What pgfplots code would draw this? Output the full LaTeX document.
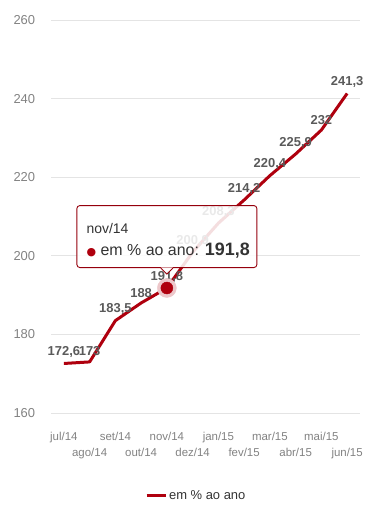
\documentclass[border=0pt]{standalone}
\usepackage{pgfplots}
\pgfplotsset{compat=1.18}
\usepackage{pgfplotstable}
\usepackage{fontspec}
\setmainfont{Liberation Sans}
\newfontfamily\dejavu{DejaVu Sans}
\definecolor{linered}{RGB}{175,0,14}
\definecolor{lblgray}{RGB}{90,90,90}
\definecolor{tickgray}{RGB}{130,130,130}
\definecolor{gridgray}{RGB}{228,228,228}
\definecolor{tiptext}{RGB}{51,51,51}
\pgfplotstableread{
x y lab
0 172.6 {172,6}
1 173.0 {173}
2 183.5 {183,5}
3 188.0 {188}
4 191.8 {191,8}
5 200.9 {200,9}
6 208.3 {208,3}
7 214.2 {214,2}
8 220.4 {220,4}
9 225.9 {225,9}
10 232.0 {232}
11 241.3 {241,3}
}\datatable
\begin{document}
\begin{tikzpicture}[x=1bp,y=1bp]
\path[use as bounding box] (0,0) rectangle (367,506);
\begin{axis}[
  at={(51bp,93bp)}, anchor=south west,
  scale only axis, width=309bp, height=393bp,
  xmin=-0.5, xmax=11.5, ymin=160, ymax=260,
  ytick={160,180,...,260},
  xtick={0,2,...,10},
  xticklabels={jul/14,set/14,nov/14,jan/15,mar/15,mai/15},
  extra x ticks={1,3,...,11},
  extra x tick labels={ago/14,out/14,dez/14,fev/15,abr/15,jun/15},
  extra x tick style={xticklabel style={yshift=-16bp}, grid=none},
  axis line style={draw=none},
  major tick length=0pt,
  ymajorgrids, grid style={gridgray, line width=0.8pt},
  /pgf/number format/assume math mode=true,
  xticklabel style={font=\fontsize{11.5}{12}\selectfont, text=tickgray, yshift=-16bp},
  yticklabel style={font=\fontsize{13}{14}\selectfont, text=tickgray, anchor=west, xshift=-41bp},
  clip=false,
  legend style={draw=none, fill=none, at={(0.47,-0.211)}, anchor=center,
    font=\fontsize{13}{14}\selectfont, text=tiptext},
  legend image code/.code={\draw[linered, line width=3bp] (0bp,0bp) -- (19bp,0bp);},
]
\addplot[linered, line width=3bp, line join=round,
  nodes near coords, point meta=explicit symbolic,
  every node near coord/.style={font=\bfseries\fontsize{13}{14}\selectfont, text=lblgray, anchor=south, yshift=1bp}]
  table[x=x, y=y, meta=lab] {\datatable};
\addlegendentry{em \% ao ano}
% highlighted point
\addplot[only marks, linered!22, mark=*, mark size=9.5bp, mark options={draw=none, fill=linered!22}, forget plot] coordinates {(4,191.8)};
\addplot[only marks, linered, mark=*, mark size=6bp, mark options={draw=none, fill=linered}, forget plot] coordinates {(4,191.8)};
\coordinate (P) at (axis cs:4,191.8);
\end{axis}
% tooltip
\node[draw=linered!85!black, line width=0.9bp, rounded corners=3bp, fill=white, fill opacity=0.87, text opacity=1,
  minimum width=180bp, minimum height=62bp, anchor=south, inner sep=0pt]
  (tip) at ([yshift=20bp]P) {};
\fill[white, opacity=0.87] ([xshift=-6bp,yshift=0.6bp]tip.south) -- ([yshift=-6bp]tip.south) -- ([xshift=6bp,yshift=0.6bp]tip.south) -- cycle;
\draw[linered!85!black, line width=0.9bp] ([xshift=-6bp]tip.south) -- ([yshift=-6bp]tip.south) -- ([xshift=6bp]tip.south);
\node[anchor=west, text=tiptext, font=\fontsize{14}{15}\selectfont, inner sep=0pt] at ([xshift=10bp,yshift=-23bp]tip.north west) {nov/14};
\node[anchor=west, text=tiptext, font=\fontsize{16}{17}\selectfont, inner sep=0pt] at ([xshift=10bp,yshift=17bp]tip.south west)
  {\textcolor{linered}{\dejavu\fontsize{11}{12}\selectfont ●} em \% ao ano: {\bfseries\fontsize{18}{19}\selectfont 191,8}};
\end{tikzpicture}
\end{document}
